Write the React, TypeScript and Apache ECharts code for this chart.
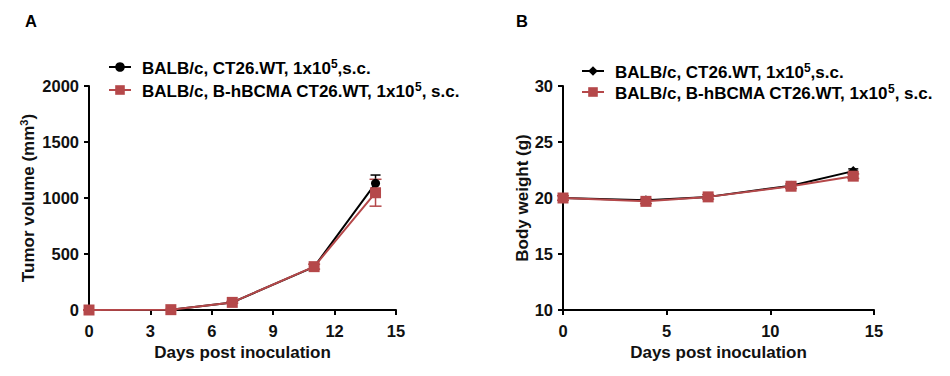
import React, { useEffect, useRef } from "react";
import * as echarts from "echarts";

const FONT = "'Liberation Sans', Arial, sans-serif";
const BLACK = "#000000";
const RED = "#b5484a";

// Panel A: tumor volume
const daysA = [0, 4, 7, 11, 14];
const tumorWT = [0, 3, 68, 385, 1131];
const tumorWTErr = [0, 2, 8, 20, 74];
const tumorHB = [0, 3, 68, 387, 1047];
const tumorHBErr = [0, 2, 8, 22, 120];
const xTicksA = [0, 3, 6, 9, 12, 15];
const yTicksA = [0, 500, 1000, 1500, 2000];

// Panel B: body weight
const daysB = [0, 4, 7, 11, 14];
const weightWT = [20.0, 19.8, 20.1, 21.1, 22.4];
const weightWTErr = [0.2, 0.2, 0.2, 0.2, 0.2];
const weightHB = [20.0, 19.7, 20.1, 21.05, 21.95];
const weightHBErr = [0.2, 0.2, 0.2, 0.2, 0.2];
const xTicksB = [0, 5, 10, 15];
const yTicksB = [10, 15, 20, 25, 30];

const legendNames: Record<string, string> = {
  A1: "{a|BALB/c, CT26.WT, 1x10}{s|5}{a|,s.c.}",
  A2: "{a|BALB/c, B-hBCMA CT26.WT, 1x10}{s|5}{a|, s.c.}",
  B1: "{a|BALB/c, CT26.WT, 1x10}{s|5}{a|,s.c.}",
  B2: "{a|BALB/c, B-hBCMA CT26.WT, 1x10}{s|5}{a|, s.c.}",
};

const rich = {
  a: { fontFamily: FONT, fontSize: 17, fontWeight: "bold", color: "#000", verticalAlign: "bottom", lineHeight: 20 },
  s: { fontFamily: FONT, fontSize: 12, fontWeight: "bold", color: "#000", verticalAlign: "bottom", lineHeight: 20, padding: [0, 0, 7, 0] },
};

const pairs = (xs: number[], ys: number[]) => xs.map((x, i) => [x, ys[i]]);
const errData = (xs: number[], ys: number[], es: number[]) =>
  xs.map((x, i) => [x, ys[i] - es[i], ys[i] + es[i]]);

const errorSeries = (idx: number, data: number[][], color: string, cap: number) => ({
  type: "custom",
  xAxisIndex: idx,
  yAxisIndex: idx,
  silent: true,
  encode: { x: 0, y: [1, 2] },
  data,
  z: 1,
  renderItem: (params: any, api: any) => {
    const x = api.value(0);
    const lo = api.coord([x, api.value(1)]);
    const hi = api.coord([x, api.value(2)]);
    const st = { stroke: color, lineWidth: 1.5 };
    return {
      type: "group",
      children: [
        { type: "line", shape: { x1: lo[0], y1: lo[1], x2: hi[0], y2: hi[1] }, style: st },
        { type: "line", shape: { x1: hi[0] - cap, y1: hi[1], x2: hi[0] + cap, y2: hi[1] }, style: st },
        { type: "line", shape: { x1: lo[0] - cap, y1: lo[1], x2: lo[0] + cap, y2: lo[1] }, style: st },
      ],
    };
  },
});

const axisCommon = {
  axisLine: { show: true, onZero: false, lineStyle: { color: BLACK, width: 2 } },
  axisTick: { show: true, inside: false, length: 5, lineStyle: { color: BLACK, width: 2 } },
  splitLine: { show: false },
  axisLabel: { fontFamily: FONT, fontSize: 16.5, fontWeight: "bold", color: "#111", formatter: (v: number) => String(v) },
  nameTextStyle: { fontFamily: FONT, fontSize: 17, fontWeight: "bold", color: "#111" },
};

const titleStyle = { fontFamily: FONT, fontSize: 16.5, fontWeight: "bold", color: "#000" };

export default function App() {
  const ref = useRef<HTMLDivElement>(null);
  useEffect(() => {
    if (!ref.current) return;
    const chart = echarts.init(ref.current, null, { renderer: "svg" });
    const option: any = {
      animation: false,
      backgroundColor: "#ffffff",
      title: [
        { text: "A", left: 25, top: 12, padding: 0, textStyle: titleStyle },
        { text: "B", left: 516, top: 12, padding: 0, textStyle: titleStyle },
      ],
      legend: [
        {
          data: ["A1", "A2"], left: 103, top: 53, orient: "vertical", itemGap: 4,
          itemWidth: 22, itemHeight: 12, selectedMode: false,
          formatter: (n: string) => legendNames[n],
          textStyle: { rich, padding: [0, 0, 0, 6] },
        },
        {
          data: ["B1", "B2"], left: 576, top: 57, orient: "vertical", itemGap: 2,
          itemWidth: 22, itemHeight: 12, selectedMode: false,
          formatter: (n: string) => legendNames[n],
          textStyle: { rich, padding: [0, 0, 0, 6] },
        },
      ],
      grid: [
        { left: 89, top: 86, width: 307, height: 224 },
        { left: 563, top: 86, width: 311, height: 224 },
      ],
      xAxis: [
        {
          ...axisCommon, gridIndex: 0, type: "value", min: xTicksA[0], max: xTicksA[xTicksA.length - 1], interval: 3,
          name: "Days post inoculation", nameLocation: "middle", nameGap: 34,
          axisLabel: { ...axisCommon.axisLabel, margin: 12 },
        },
        {
          ...axisCommon, gridIndex: 1, type: "value", min: xTicksB[0], max: xTicksB[xTicksB.length - 1], interval: 5,
          name: "Days post inoculation", nameLocation: "middle", nameGap: 34,
          axisLabel: { ...axisCommon.axisLabel, margin: 12 },
        },
      ],
      yAxis: [
        {
          ...axisCommon, gridIndex: 0, type: "value", min: yTicksA[0], max: yTicksA[yTicksA.length - 1], interval: 500,
          name: "{a|Tumor volume (mm}{s|3}{a|)}", nameLocation: "middle", nameGap: 52,
          nameTextStyle: {
            ...axisCommon.nameTextStyle,
            rich: {
              a: { fontFamily: FONT, fontSize: 17, fontWeight: "bold", color: "#111", verticalAlign: "bottom", lineHeight: 20 },
              s: { fontFamily: FONT, fontSize: 11, fontWeight: "bold", color: "#111", verticalAlign: "bottom", lineHeight: 20, padding: [0, 0, 8, 0] },
            },
          },
          axisLabel: { ...axisCommon.axisLabel, margin: 10 },
        },
        {
          ...axisCommon, gridIndex: 1, type: "value", min: yTicksB[0], max: yTicksB[yTicksB.length - 1], interval: 5,
          name: "Body weight (g)", nameLocation: "middle", nameGap: 32,
          axisLabel: { ...axisCommon.axisLabel, margin: 10 },
        },
      ],
      series: [
        errorSeries(0, errData(daysA, tumorWT, tumorWTErr), BLACK, 5),
        {
          name: "A1", type: "line", xAxisIndex: 0, yAxisIndex: 0, data: pairs(daysA, tumorWT),
          symbol: "circle", symbolSize: 9, color: BLACK, lineStyle: { width: 2, color: BLACK }, z: 2,
        },
        errorSeries(0, errData(daysA, tumorHB, tumorHBErr), RED, 6),
        {
          name: "A2", type: "line", xAxisIndex: 0, yAxisIndex: 0, data: pairs(daysA, tumorHB),
          symbol: "rect", symbolSize: 11, color: RED, lineStyle: { width: 2, color: RED }, z: 3,
        },
        errorSeries(1, errData(daysB, weightWT, weightWTErr), BLACK, 5),
        {
          name: "B1", type: "line", xAxisIndex: 1, yAxisIndex: 1, data: pairs(daysB, weightWT),
          symbol: "diamond", symbolSize: 10, color: BLACK, lineStyle: { width: 2, color: BLACK }, z: 2,
        },
        errorSeries(1, errData(daysB, weightHB, weightHBErr), RED, 6),
        {
          name: "B2", type: "line", xAxisIndex: 1, yAxisIndex: 1, data: pairs(daysB, weightHB),
          symbol: "rect", symbolSize: 11, color: RED, lineStyle: { width: 2, color: RED }, z: 3,
        },
      ],
    };
    chart.setOption(option);
    return () => chart.dispose();
  }, []);
  return (
    <div
      ref={ref}
      style={{ position: "absolute", left: 0, top: 0, width: 950, height: 376, background: "#fff" }}
    />
  );
}
